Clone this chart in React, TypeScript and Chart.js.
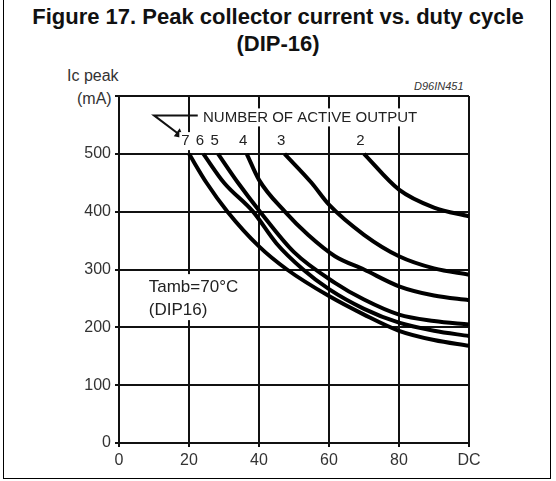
import React, { useEffect, useRef } from 'react';
import Chart from 'chart.js/auto';

const curveLabels = ['7', '6', '5', '4', '3', '2'];
const dutyPoints: number[][] = [
  [20, 25, 31, 40, 48, 60, 70, 80, 90, 100],
  [24.1, 30, 38.3, 45, 52.6, 60, 70, 80, 90, 100],
  [28.3, 34, 40.3, 50, 61.7, 70, 80, 90, 100],
  [36.5, 40, 47.4, 54, 61.7, 70, 80, 90, 100],
  [47.3, 55, 60, 70, 80, 90, 100],
  [70, 80, 90, 100],
];
const currentPoints: number[][] = [
  [500, 450, 400, 340, 300, 254, 222, 194, 178, 168],
  [500, 450, 400, 345, 300, 266, 232, 208, 194, 185],
  [500, 450, 400, 330, 277, 248, 222, 211, 205],
  [500, 455, 400, 360, 323, 300, 271, 255, 247],
  [500, 450, 412, 360, 323, 302, 291],
  [500, 438, 407, 392],
];
const xTicks = [0, 20, 40, 60, 80, 100];
const yTicks = [0, 100, 200, 300, 400, 500];

const font = 'Arial, "Liberation Sans", sans-serif';

const App: React.FC = () => {
  const canvasRef = useRef<HTMLCanvasElement>(null);
  const chartInstance = useRef<Chart>();

  useEffect(() => {
    if (!canvasRef.current) return;
    const ctx = canvasRef.current.getContext('2d');
    if (!ctx) return;

    const notes = {
      id: 'notes',
      afterDraw(chart: any) {
        const c = chart.ctx;
        const xs = chart.scales.x;
        const ys = chart.scales.y;
        c.save();
        c.fillStyle = '#222';
        c.textBaseline = 'middle';
        // header over the grid
        c.font = `15px ${font}`;
        const hx = xs.getPixelForValue(24);
        const hy = ys.getPixelForValue(563);
        const w = c.measureText('NUMBER OF ACTIVE OUTPUT').width;
        c.fillStyle = '#fff';
        c.fillRect(hx - 4, hy - 9, w + 8, 18);
        c.fillStyle = '#222';
        c.textAlign = 'left';
        c.fillText('NUMBER OF ACTIVE OUTPUT', hx, hy);
        // arrow
        c.strokeStyle = '#111';
        c.lineWidth = 2;
        c.beginPath();
        c.moveTo(xs.getPixelForValue(22.5), hy - 2);
        c.lineTo(xs.getPixelForValue(10), hy - 2);
        c.lineTo(xs.getPixelForValue(17.5), ys.getPixelForValue(532));
        c.stroke();
        c.beginPath();
        const ax = xs.getPixelForValue(18.5), ay = ys.getPixelForValue(527);
        c.moveTo(ax, ay);
        c.lineTo(ax - 10, ay - 2);
        c.lineTo(ax - 4, ay - 10);
        c.closePath();
        c.fillStyle = '#111';
        c.fill();
        // curve numbers
        c.font = `15px ${font}`;
        c.textAlign = 'center';
        curveLabels.forEach((lbl, i) => {
          const px = xs.getPixelForValue(dutyPoints[i][0] - 1);
          const py = ys.getPixelForValue(522);
          const tw = c.measureText(lbl).width;
          c.fillStyle = '#fff';
          c.fillRect(px - tw / 2 - 2, py - 9, tw + 4, 18);
          c.fillStyle = '#222';
          c.fillText(lbl, px, py);
        });
        // Tamb
        c.font = `17px ${font}`;
        c.textAlign = 'left';
        const tx = xs.getPixelForValue(8.5);
        c.fillStyle = '#fff';
        c.fillRect(tx - 2, ys.getPixelForValue(292), 92, 46);
        c.fillStyle = '#222';
        c.fillText('Tamb=70°C', tx, ys.getPixelForValue(270));
        c.fillText('(DIP16)', tx, ys.getPixelForValue(230));
        c.restore();
      },
    };

    chartInstance.current = new Chart(ctx, {
      type: 'line',
      data: {
        datasets: curveLabels.map((lbl, i) => ({
          label: lbl,
          data: dutyPoints[i].map((x, j) => ({ x, y: currentPoints[i][j] })),
          borderColor: '#000',
          borderWidth: 4,
          pointRadius: 0,
          cubicInterpolationMode: 'monotone' as const,
          fill: false,
        })),
      },
      options: {
        animation: false,
        responsive: false,
        layout: { padding: { top: 96, right: 87, left: 0, bottom: 0 } },
        plugins: { legend: { display: false }, tooltip: { enabled: false } },
        scales: {
          x: {
            type: 'linear',
            min: 0,
            max: 100,
            afterFit: (s: any) => { s.height = 38; },
            afterBuildTicks: (s: any) => { s.ticks = xTicks.map((v) => ({ value: v })); },
            ticks: {
              color: '#333',
              font: { family: font, size: 16 },
              padding: 4,
              callback: (v: any) => (v === 100 ? 'DC' : String(v)),
            },
            grid: { color: '#111', lineWidth: 2, tickLength: 4 },
            border: { color: '#111', width: 2 },
          },
          y: {
            min: 0,
            max: 600,
            afterFit: (s: any) => { s.width = 119; },
            afterBuildTicks: (s: any) => {
              s.ticks = [...yTicks, 600].map((v) => ({ value: v }));
            },
            ticks: {
              color: '#333',
              font: { family: font, size: 16 },
              padding: 4,
              callback: (v: any) => (v === 600 ? '' : String(v)),
            },
            grid: { color: '#111', lineWidth: 2, tickLength: 4 },
            border: { color: '#111', width: 2 },
          },
        },
      },
      plugins: [notes],
    });

    return () => {
      if (chartInstance.current) chartInstance.current.destroy();
    };
  }, []);

  return (
    <div style={{ position: 'fixed', left: 0, top: 0, width: 556, height: 481, background: '#fff', fontFamily: font }}>
      <div style={{ position: 'absolute', left: 3, top: 0, width: 546, height: 478, borderLeft: '1px solid #000', borderRight: '1px solid #000', borderBottom: '1px solid #000' }} />
      <div style={{ position: 'absolute', left: 0, top: 3, width: 556, textAlign: 'center', fontWeight: 'bold', fontSize: 22, lineHeight: '27px', color: '#111' }}>
        Figure 17. Peak collector current vs. duty cycle<br />(DIP-16)
      </div>
      <div style={{ position: 'absolute', left: 67, top: 67, fontSize: 16, color: '#333' }}>Ic peak</div>
      <div style={{ position: 'absolute', left: 77, top: 90, fontSize: 16, color: '#333' }}>(mA)</div>
      <div style={{ position: 'absolute', left: 414, top: 80, fontSize: 11, fontStyle: 'italic', color: '#333' }}>D96IN451</div>
      <canvas ref={canvasRef} width={556} height={481} style={{ position: 'absolute', left: 0, top: 0 }} />
    </div>
  );
};

export default App;
